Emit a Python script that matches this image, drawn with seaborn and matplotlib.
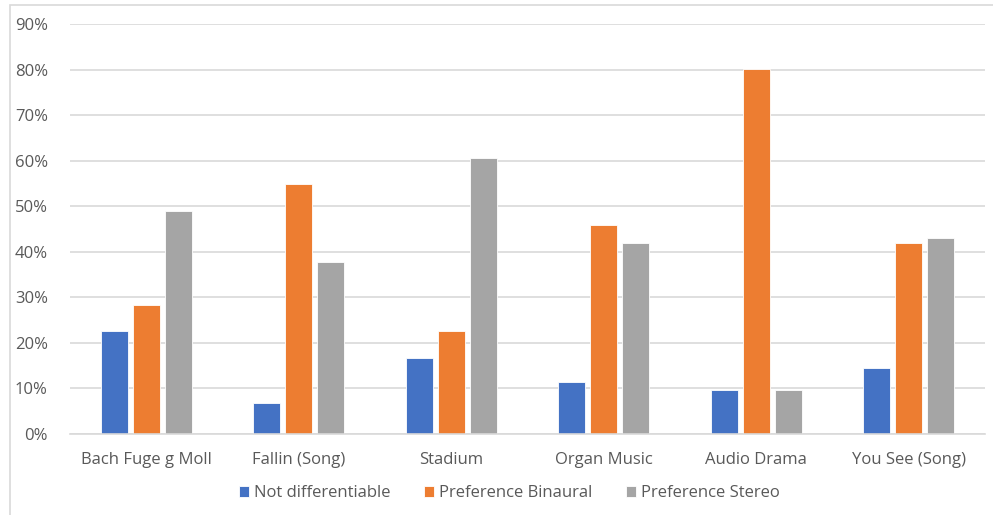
import matplotlib
matplotlib.use("Agg")
import matplotlib.pyplot as plt
from matplotlib.patches import Rectangle
from matplotlib.ticker import FuncFormatter
import seaborn as sns
import pandas as pd

categories = ["Bach Fuge g Moll", "Fallin (Song)", "Stadium", "Organ Music",
              "Audio Drama", "You See (Song)"]
not_differentiable = [0.226, 0.067, 0.166, 0.115, 0.097, 0.144]
preference_binaural = [0.284, 0.549, 0.226, 0.459, 0.801, 0.419]
preference_stereo = [0.489, 0.378, 0.606, 0.420, 0.097, 0.431]
series_names = ["Not differentiable", "Preference Binaural", "Preference Stereo"]
colors = ["#4472C4", "#ED7D31", "#A5A5A5"]

rows = []
for name, vals in zip(series_names, [not_differentiable, preference_binaural, preference_stereo]):
    for cat, v in zip(categories, vals):
        rows.append({"category": cat, "series": name, "value": v})
df = pd.DataFrame(rows)

sns.set_style("white")
plt.rcParams["font.family"] = ["Open Sans", "DejaVu Sans"]
text_color = "#595959"
grid_color = "#D9D9D9"

fig = plt.figure(figsize=(9.93, 5.15), dpi=100)
ax = fig.add_axes([70 / 993, 1 - 434 / 515, 915 / 993, 410 / 515])

sns.barplot(data=df, x="category", y="value", hue="series", order=categories,
            hue_order=series_names, palette=colors, width=0.63, gap=0.15,
            errorbar=None, ax=ax, saturation=1, linewidth=0.6, edgecolor="white")

ax.set_ylim(0, 0.9)
ax.set_xlim(-0.5, 5.5)
ax.set_yticks([i / 10 for i in range(10)])
ax.yaxis.set_major_formatter(FuncFormatter(lambda v, _: f"{round(v * 100)}%"))
ax.grid(axis="y", color=grid_color, linewidth=1.2)
ax.set_axisbelow(True)
for side in ["top", "right", "left"]:
    ax.spines[side].set_visible(False)
ax.spines["bottom"].set_color(grid_color)
ax.spines["bottom"].set_linewidth(1.2)
ax.tick_params(axis="both", length=0, colors=text_color, labelsize=12)
ax.tick_params(axis="y", pad=16)
ax.tick_params(axis="x", pad=13)
ax.set_xlabel("")
ax.set_ylabel("")

ax.legend(loc="center", bbox_to_anchor=(0.48, -0.145), ncol=3, frameon=False,
          fontsize=12, labelcolor=text_color, handlelength=0.6, handleheight=0.6,
          handletextpad=0.3, columnspacing=2.0, borderaxespad=0)

# chart frame (left and top edges)
fig.add_artist(Rectangle((10 / 993, -0.05), 1.0, 1 - 5 / 515 + 0.05,
                         transform=fig.transFigure, fill=False,
                         edgecolor=grid_color, linewidth=1.2))

fig.savefig("out.png", dpi=100, facecolor="white")
